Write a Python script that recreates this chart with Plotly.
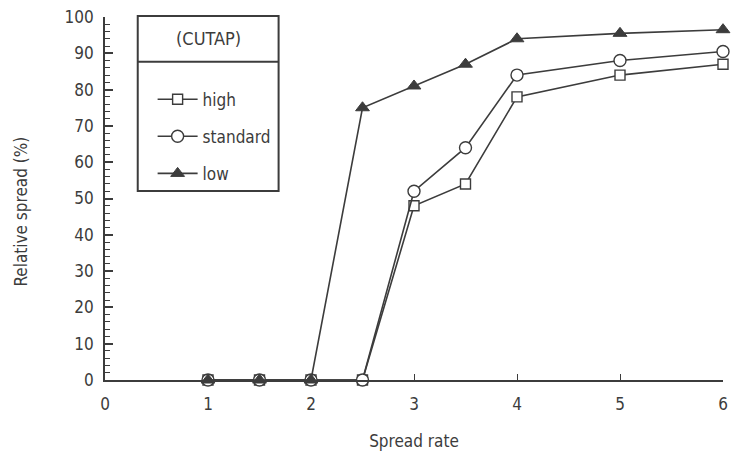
import plotly.graph_objects as go

spread_rate = [1, 1.5, 2, 2.5, 3, 3.5, 4, 5, 6]
high = [0, 0, 0, 0, 48, 54, 78, 84, 87]
standard = [0, 0, 0, 0, 52, 64, 84, 88, 90.5]
low = [0, 0, 0, 75, 81, 87, 94, 95.5, 96.5]

x_ticks = [0, 1, 2, 3, 4, 5, 6]

INK = "#3c3c3c"
FONT = "DejaVu Sans Condensed, Liberation Sans Narrow, Liberation Sans, sans-serif"

W, H = 735, 458
ML, MR, MT, MB = 105, 7, 15, 78

fig = go.Figure()
fig.add_trace(go.Scatter(x=spread_rate, y=high, name="high", mode="lines+markers",
                         line=dict(color=INK, width=1.6),
                         marker=dict(symbol="square", size=10, color="white",
                                     line=dict(color=INK, width=1.4)),
                         cliponaxis=False, legendgroup="a"))
fig.add_trace(go.Scatter(x=spread_rate, y=standard, name="standard", mode="lines+markers",
                         line=dict(color=INK, width=1.6),
                         marker=dict(symbol="circle", size=12, color="white",
                                     line=dict(color=INK, width=1.4)),
                         cliponaxis=False, legendgroup="b"))
fig.add_trace(go.Scatter(x=spread_rate, y=low, name="low", mode="lines+markers",
                         line=dict(color=INK, width=1.6),
                         marker=dict(symbol="triangle-up", size=12, color=INK,
                                     line=dict(color=INK, width=1)),
                         cliponaxis=False, legendgroup="c"))

pw = W - ML - MR
ph = H - MT - MB

def px_x(p):
    return (p - ML) / pw

def px_y(p):
    return (H - MB - p) / ph

box_l, box_r, box_t, box_b, sep = 138, 280, 14, 190, 60

fig.add_shape(type="rect", xref="paper", yref="paper",
              x0=px_x(box_l), x1=px_x(box_r), y0=px_y(box_b), y1=px_y(box_t),
              line=dict(color=INK, width=2), fillcolor="white", layer="below")
fig.add_shape(type="line", xref="paper", yref="paper",
              x0=px_x(box_l), x1=px_x(box_r), y0=px_y(sep), y1=px_y(sep),
              line=dict(color=INK, width=2))
fig.add_annotation(text="(CUTAP)", xref="paper", yref="paper",
                   x=px_x((box_l + box_r) / 2), y=px_y((box_t + sep) / 2),
                   showarrow=False, font=dict(size=18, color=INK, family=FONT),
                   xanchor="center", yanchor="middle")
fig.add_annotation(text="Relative spread (%)", xref="paper", yref="paper",
                   x=px_x(20), y=px_y(211), textangle=-90, showarrow=False,
                   font=dict(size=17, color=INK, family=FONT),
                   xanchor="center", yanchor="middle")

fig.update_layout(
    width=W, height=H,
    margin=dict(l=ML, r=MR, t=MT, b=MB),
    paper_bgcolor="white", plot_bgcolor="white",
    font=dict(family=FONT, size=17, color=INK),
    showlegend=True,
    legend=dict(x=px_x(153), y=px_y(80), xanchor="left", yanchor="top",
                bgcolor="rgba(0,0,0,0)", borderwidth=0,
                traceorder="grouped", tracegroupgap=12,
                font=dict(size=17, color=INK, family=FONT), itemwidth=40),
    xaxis=dict(range=[0, 6], tickvals=x_ticks, ticks="inside", ticklen=6,
               tickcolor=INK, tickwidth=1.4, showline=True, linecolor=INK,
               linewidth=1.6, showgrid=False, zeroline=False,
               tickfont=dict(size=17, color=INK), ticklabelstandoff=8,
               title=dict(text="Spread rate", font=dict(size=17, color=INK), standoff=22)),
    yaxis=dict(range=[0, 100], tickmode="linear", tick0=0, dtick=10,
               ticks="inside", ticklen=8,
               tickcolor=INK, tickwidth=1.5, showline=True, linecolor=INK,
               linewidth=1.6, showgrid=False, zeroline=False,
               tickfont=dict(size=17, color=INK), ticklabelstandoff=6,
               minor=dict(tickmode="linear", tick0=0, dtick=2, ticks="inside",
                          ticklen=5, tickcolor=INK, tickwidth=1.2, showgrid=False)),
)

fig.write_html("out.html")
